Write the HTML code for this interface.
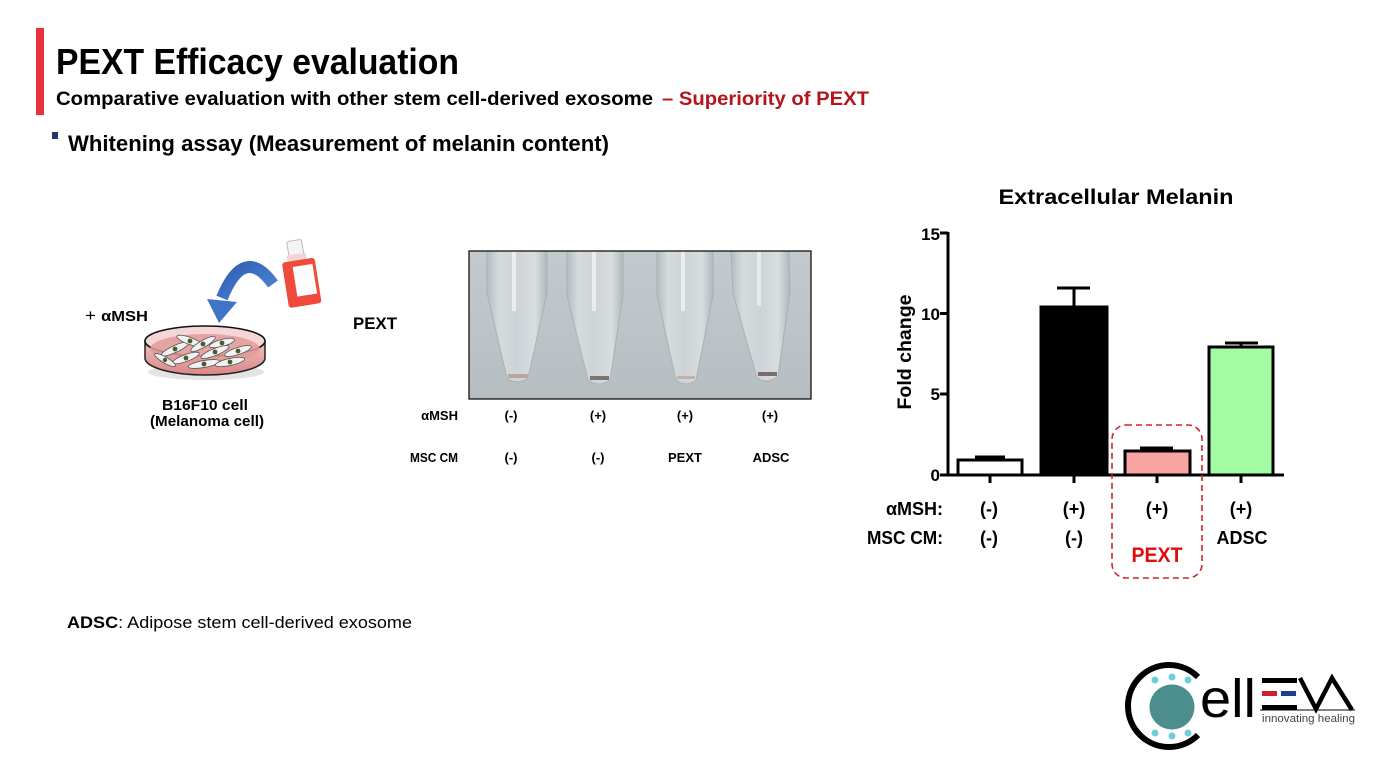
<!DOCTYPE html>
<html>
<head>
<meta charset="utf-8">
<style>
  html,body{margin:0;padding:0;background:#fff;}
  svg{display:block;}
  text{font-family:"Liberation Sans","Noto Sans CJK KR",sans-serif;}
</style>
</head>
<body>
<svg width="1386" height="780" viewBox="0 0 1386 780" xmlns="http://www.w3.org/2000/svg">
  <defs>
    <linearGradient id="tubeBg" x1="0" y1="0" x2="0" y2="1">
      <stop offset="0" stop-color="#c3cacd"/>
      <stop offset="1" stop-color="#b6bec2"/>
    </linearGradient>
    <linearGradient id="tubeG" x1="0" y1="0" x2="1" y2="0">
      <stop offset="0" stop-color="#b4bcc0"/>
      <stop offset="0.2" stop-color="#d6dbdd"/>
      <stop offset="0.5" stop-color="#cdd3d6"/>
      <stop offset="0.8" stop-color="#d8dde0"/>
      <stop offset="1" stop-color="#b0b8bc"/>
    </linearGradient>
    <linearGradient id="arrowG" x1="0" y1="0" x2="1" y2="1">
      <stop offset="0" stop-color="#2f5fb3"/>
      <stop offset="1" stop-color="#4f86d6"/>
    </linearGradient>
    <linearGradient id="dishG" x1="0" y1="0" x2="0" y2="1">
      <stop offset="0" stop-color="#f2c2c2"/>
      <stop offset="1" stop-color="#d98585"/>
    </linearGradient>
  </defs>

  <!-- Header -->
  <rect x="36" y="28" width="8" height="87" fill="#e8313a"/>
  <text x="56" y="74" font-size="36" font-weight="bold" fill="#000" textLength="403" lengthAdjust="spacingAndGlyphs">PEXT Efficacy evaluation</text>
  <text x="56" y="105" font-size="19.5" font-weight="bold" fill="#000" textLength="597" lengthAdjust="spacingAndGlyphs">Comparative evaluation with other stem cell-derived exosome</text>
  <text x="662" y="105" font-size="19.5" font-weight="bold" fill="#b5161d" textLength="207" lengthAdjust="spacingAndGlyphs">– Superiority of PEXT</text>
  <rect x="52" y="132" width="6" height="7" fill="#1f3864"/>
  <text x="68" y="151" font-size="22" font-weight="bold" fill="#000" textLength="541" lengthAdjust="spacingAndGlyphs">Whitening assay (Measurement of melanin content)</text>

  <!-- Footnote -->
  <text x="67" y="628" font-size="17" fill="#000" textLength="345" lengthAdjust="spacingAndGlyphs"><tspan font-weight="bold">ADSC</tspan>: Adipose stem cell-derived exosome</text>

  <!-- Left diagram -->
  <text x="85" y="321" font-size="15" font-weight="bold" fill="#000" textLength="63" lengthAdjust="spacingAndGlyphs"><tspan font-weight="normal" font-size="17">+ </tspan>αMSH</text>

  <!-- blue curved arrow -->
  <path d="M273 284 Q244 244 222 298" fill="none" stroke="url(#arrowG)" stroke-width="12" stroke-linecap="butt"/>
  <polygon points="207,299 237,302 219,323" fill="#3f74c8"/>

  <!-- flask -->
  <g transform="rotate(-9 300 275)">
    <rect x="292" y="240" width="15" height="15" rx="2" fill="#f4f4f4" stroke="#bbb" stroke-width="1"/>
    <rect x="290" y="254" width="19" height="6" fill="#f3d6d3" stroke="#ddd" stroke-width="0.5"/>
    <rect x="284" y="260" width="33" height="46" rx="3" fill="#ef4a3c"/>
    <rect x="294" y="266" width="20" height="30" fill="#fdfdfd"/>
  </g>

  <!-- petri dish -->
  <ellipse cx="206" cy="372" rx="58" ry="8" fill="#d0d0d0" opacity="0.6"/>
  <path d="M145 341 L145 358 A60 17 0 0 0 265 358 L265 341 Z" fill="url(#dishG)" stroke="#222" stroke-width="1.5"/>
  <ellipse cx="205" cy="341" rx="60" ry="15" fill="#f5d6d6" stroke="#111" stroke-width="1.6"/>
  <ellipse cx="205" cy="349" rx="55" ry="15" fill="#e29a9a" opacity="0.85"/>
  <g stroke="#555" stroke-width="0.8" fill="#f2f2f2">
    <ellipse cx="175" cy="349" rx="15" ry="3.5" transform="rotate(-25 175 349)"/>
    <ellipse cx="190" cy="341" rx="14" ry="3.5" transform="rotate(20 190 341)"/>
    <ellipse cx="203" cy="344" rx="14" ry="3.5" transform="rotate(-30 203 344)"/>
    <ellipse cx="222" cy="343" rx="13" ry="3.5" transform="rotate(-15 222 343)"/>
    <ellipse cx="186" cy="358" rx="14" ry="3.5" transform="rotate(-20 186 358)"/>
    <ellipse cx="215" cy="352" rx="15" ry="3.5" transform="rotate(-22 215 352)"/>
    <ellipse cx="238" cy="351" rx="14" ry="3.5" transform="rotate(-18 238 351)"/>
    <ellipse cx="204" cy="364" rx="16" ry="3.5" transform="rotate(-10 204 364)"/>
    <ellipse cx="230" cy="362" rx="15" ry="3.5" transform="rotate(-12 230 362)"/>
    <ellipse cx="165" cy="360" rx="12" ry="3" transform="rotate(30 165 360)"/>
  </g>
  <g fill="#4f5a2c">
    <circle cx="175" cy="349" r="2.4"/><circle cx="190" cy="341" r="2.4"/><circle cx="203" cy="344" r="2.4"/>
    <circle cx="222" cy="343" r="2.4"/><circle cx="186" cy="358" r="2.4"/><circle cx="215" cy="352" r="2.4"/>
    <circle cx="238" cy="351" r="2.4"/><circle cx="204" cy="364" r="2.4"/><circle cx="230" cy="362" r="2.4"/>
    <circle cx="165" cy="360" r="2.2"/>
  </g>

  <text x="205" y="410" font-size="15" font-weight="bold" text-anchor="middle" fill="#000" textLength="86" lengthAdjust="spacingAndGlyphs">B16F10 cell</text>
  <text x="207" y="426" font-size="15" font-weight="bold" text-anchor="middle" fill="#000" textLength="114" lengthAdjust="spacingAndGlyphs">(Melanoma cell)</text>

  <text x="353" y="329" font-size="17" font-weight="bold" fill="#000" textLength="44" lengthAdjust="spacingAndGlyphs">PEXT</text>

  <!-- Tube photo -->
  <rect x="469" y="251" width="342" height="148" fill="url(#tubeBg)"/>
  <g>
    <path d="M487 251 L487 293 L507 378 Q517 386 528 378 L547 293 L547 251 Z" fill="url(#tubeG)" stroke="#a9b1b5" stroke-width="1"/>
    <rect x="512" y="251" width="4" height="60" fill="#eef1f2" opacity="0.85"/>
    <rect x="508" y="374" width="20" height="4" fill="#b8a89c"/>
    <path d="M567 251 L567 295 L588 380 Q598 388 610 380 L623 295 L623 251 Z" fill="url(#tubeG)" stroke="#a9b1b5" stroke-width="1"/>
    <rect x="592" y="251" width="4" height="60" fill="#eef1f2" opacity="0.85"/>
    <rect x="590" y="376" width="19" height="4" fill="#7d7470"/>
    <path d="M657 251 L657 295 L676 380 Q686 388 696 380 L713 295 L713 251 Z" fill="url(#tubeG)" stroke="#a9b1b5" stroke-width="1"/>
    <rect x="681" y="251" width="4" height="60" fill="#eef1f2" opacity="0.85"/>
    <rect x="677" y="376" width="18" height="3" fill="#c3b2a4"/>
    <path d="M731 251 L733 293 L757 378 Q768 385 778 376 L790 292 L789 251 Z" fill="url(#tubeG)" stroke="#a9b1b5" stroke-width="1"/>
    <rect x="757" y="251" width="4" height="55" fill="#eef1f2" opacity="0.75"/>
    <rect x="758" y="372" width="19" height="4" fill="#7a6f68"/>
  </g>
  <rect x="469" y="251" width="342" height="148" fill="none" stroke="#000" stroke-width="1.2"/>

  <g font-size="13" font-weight="bold" fill="#000">
    <text x="458" y="420" text-anchor="end">αMSH</text>
    <text x="458" y="462" text-anchor="end" textLength="48" lengthAdjust="spacingAndGlyphs">MSC CM</text>
    <text x="511" y="420" text-anchor="middle">(-)</text>
    <text x="598" y="420" text-anchor="middle">(+)</text>
    <text x="685" y="420" text-anchor="middle">(+)</text>
    <text x="770" y="420" text-anchor="middle">(+)</text>
    <text x="511" y="462" text-anchor="middle">(-)</text>
    <text x="598" y="462" text-anchor="middle">(-)</text>
    <text x="685" y="462" text-anchor="middle">PEXT</text>
    <text x="771" y="462" text-anchor="middle">ADSC</text>
  </g>

  <!-- Chart -->
  <text x="1116" y="204" font-size="21" font-weight="bold" text-anchor="middle" fill="#000" textLength="235" lengthAdjust="spacingAndGlyphs">Extracellular Melanin</text>

  <rect x="958" y="460" width="64" height="15" fill="#fff" stroke="#000" stroke-width="3"/>
  <rect x="1041" y="307" width="66" height="168" fill="#000" stroke="#000" stroke-width="3"/>
  <rect x="1125" y="451" width="65" height="24" fill="#f9a3a3" stroke="#000" stroke-width="3"/>
  <rect x="1209" y="347" width="64" height="128" fill="#a2fca2" stroke="#000" stroke-width="3"/>

  <g stroke="#000" stroke-width="3" fill="none">
    <line x1="990" y1="460" x2="990" y2="457"/><line x1="975" y1="457" x2="1005" y2="457"/>
    <line x1="1074" y1="307" x2="1074" y2="288"/><line x1="1057" y1="288" x2="1090" y2="288"/>
    <line x1="1157" y1="451" x2="1157" y2="448"/><line x1="1140" y1="448" x2="1173" y2="448"/>
    <line x1="1241" y1="347" x2="1241" y2="343"/><line x1="1225" y1="343" x2="1258" y2="343"/>
  </g>

  <g stroke="#000" stroke-width="3" fill="none">
    <line x1="948" y1="232" x2="948" y2="476"/>
    <line x1="946" y1="475" x2="1284" y2="475"/>
    <line x1="940" y1="233" x2="948" y2="233"/>
    <line x1="940" y1="313.5" x2="948" y2="313.5"/>
    <line x1="940" y1="394" x2="948" y2="394"/>
    <line x1="940" y1="475" x2="948" y2="475"/>
    <line x1="990" y1="475" x2="990" y2="483"/>
    <line x1="1074" y1="475" x2="1074" y2="483"/>
    <line x1="1157" y1="475" x2="1157" y2="483"/>
    <line x1="1241" y1="475" x2="1241" y2="483"/>
  </g>
  <g font-size="17" font-weight="bold" fill="#000" text-anchor="end">
    <text x="940" y="240">15</text>
    <text x="940" y="320">10</text>
    <text x="940" y="400">5</text>
    <text x="940" y="481">0</text>
  </g>
  <text transform="translate(911 352) rotate(-90)" font-size="19" font-weight="bold" text-anchor="middle" fill="#000" textLength="115" lengthAdjust="spacingAndGlyphs">Fold change</text>

  <rect x="1112" y="425" width="90" height="153" rx="14" ry="14" fill="none" stroke="#c9272d" stroke-width="1.6" stroke-dasharray="6 4"/>

  <g font-size="18" font-weight="bold" fill="#000">
    <text x="943" y="515" text-anchor="end">αMSH:</text>
    <text x="943" y="544" text-anchor="end" textLength="76" lengthAdjust="spacingAndGlyphs">MSC CM:</text>
    <text x="989" y="515" text-anchor="middle">(-)</text>
    <text x="1074" y="515" text-anchor="middle">(+)</text>
    <text x="1157" y="515" text-anchor="middle">(+)</text>
    <text x="1241" y="515" text-anchor="middle">(+)</text>
    <text x="989" y="544" text-anchor="middle">(-)</text>
    <text x="1074" y="544" text-anchor="middle">(-)</text>
    <text x="1242" y="544" text-anchor="middle">ADSC</text>
  </g>
  <text x="1157" y="562" font-size="21" font-weight="bold" text-anchor="middle" fill="#e00d0d" textLength="51" lengthAdjust="spacingAndGlyphs">PEXT</text>

  <!-- Logo -->
  <path d="M1198 677 A41 41 0 1 0 1198 735" fill="none" stroke="#000" stroke-width="6"/>
  <circle cx="1172" cy="707" r="22.5" fill="#4b8e8d"/>
  <g fill="#6fcfd6">
    <circle cx="1155" cy="680" r="3.5"/><circle cx="1172" cy="677" r="3.5"/><circle cx="1188" cy="680" r="3.5"/>
    <circle cx="1155" cy="733" r="3.5"/><circle cx="1172" cy="736" r="3.5"/><circle cx="1188" cy="733" r="3.5"/>
  </g>
  <text x="1200" y="717" font-size="54" fill="#000" textLength="56" lengthAdjust="spacingAndGlyphs">ell</text>
  <rect x="1262" y="678" width="35" height="5" fill="#000"/>
  <rect x="1262" y="691" width="15" height="5" fill="#d0202a"/>
  <rect x="1281" y="691" width="15" height="5" fill="#1c3f94"/>
  <rect x="1262" y="705" width="35" height="5" fill="#000"/>
  <polyline points="1300,678 1316,709 1332,678 1352,710" fill="none" stroke="#000" stroke-width="4.5" stroke-linejoin="miter"/>
  <line x1="1260" y1="710" x2="1355" y2="710" stroke="#000" stroke-width="1"/>
  <text x="1262" y="722" font-size="11" fill="#444" textLength="93" lengthAdjust="spacingAndGlyphs">innovating healing</text>
</svg>
</body>
</html>
